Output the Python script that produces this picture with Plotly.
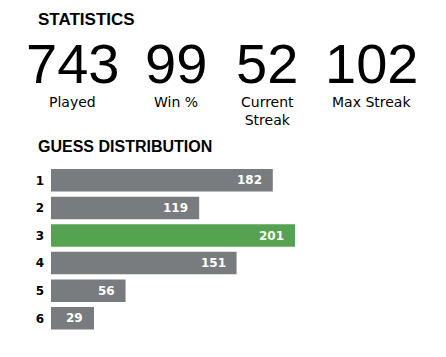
import plotly.graph_objects as go

W, H = 446, 357

# ---- data ----
stat_values = ["743", "99", "52", "102"]
stat_labels = ["Played", "Win %", "Current<br>Streak", "Max Streak"]
guesses = ["1", "2", "3", "4", "5", "6"]
counts = [182, 119, 201, 151, 56, 29]
highlight = "3"

# ---- style ----
GRAY = "#787c7e"
GREEN = "#55a350"
PAD = 7.8  # minimum bar padding, in data units
stat_centers_px = [72, 176, 267, 371]

def px(x):
    return x / W

def py(y):
    return 1 - y / H

colors = [GREEN if g == highlight else GRAY for g in guesses]

fig = go.Figure()
fig.add_trace(go.Bar(
    orientation="h",
    y=guesses,
    x=[c + PAD for c in counts],
    base=-PAD,
    marker=dict(color=colors, line=dict(width=0)),
    hoverinfo="skip",
))

annotations = []
# headings
annotations.append(dict(text="STATISTICS", x=px(36), y=py(19), xref="paper", yref="paper",
                        xanchor="left", yanchor="middle", showarrow=False,
                        font=dict(family="Liberation Sans", size=17, color="#000", weight=700)))
annotations.append(dict(text="GUESS DISTRIBUTION", x=px(36), y=py(146.5), xref="paper", yref="paper",
                        xanchor="left", yanchor="middle", showarrow=False,
                        font=dict(family="Liberation Sans", size=16, color="#000", weight=700)))
# stats
for cx, v, lab in zip(stat_centers_px, stat_values, stat_labels):
    annotations.append(dict(text=v, x=px(cx), y=py(63), xref="paper", yref="paper",
                            xanchor="center", yanchor="middle", showarrow=False,
                            font=dict(family="Liberation Sans", size=56, color="#000")))
    annotations.append(dict(text=lab, x=px(cx), y=py(92), xref="paper", yref="paper",
                            xanchor="center", yanchor="top", showarrow=False,
                            font=dict(family="DejaVu Sans", size=14, color="#000")))
# bar values
for i, c in enumerate(counts):
    annotations.append(dict(text=str(c), x=c, y=i, xref="x", yref="y",
                            xanchor="right", yanchor="middle", xshift=-9, showarrow=False,
                            font=dict(family="DejaVu Sans", size=12, color="#fff", weight=700)))

k = 1.1686  # px per unit
x_left_px = 51
x_right_px = W
rng = [-PAD, -PAD + (x_right_px - x_left_px) / k]

fig.update_layout(
    width=W, height=H,
    margin=dict(l=0, r=0, t=0, b=0),
    paper_bgcolor="white", plot_bgcolor="white",
    showlegend=False,
    bargap=0.185,
    hovermode=False,
    annotations=annotations,
    xaxis=dict(domain=[px(x_left_px), 1], range=rng, visible=False, fixedrange=True),
    yaxis=dict(domain=[py(332.1), py(166.5)], autorange="reversed", type="category",
               showgrid=False, zeroline=False, showline=False, ticks="",
               ticklabelstandoff=6, fixedrange=True,
               tickfont=dict(family="DejaVu Sans", size=12, color="#000", weight=700)),
)

fig.write_html("out.html", config={"displayModeBar": False},
               post_script="document.body.style.margin='0';")
